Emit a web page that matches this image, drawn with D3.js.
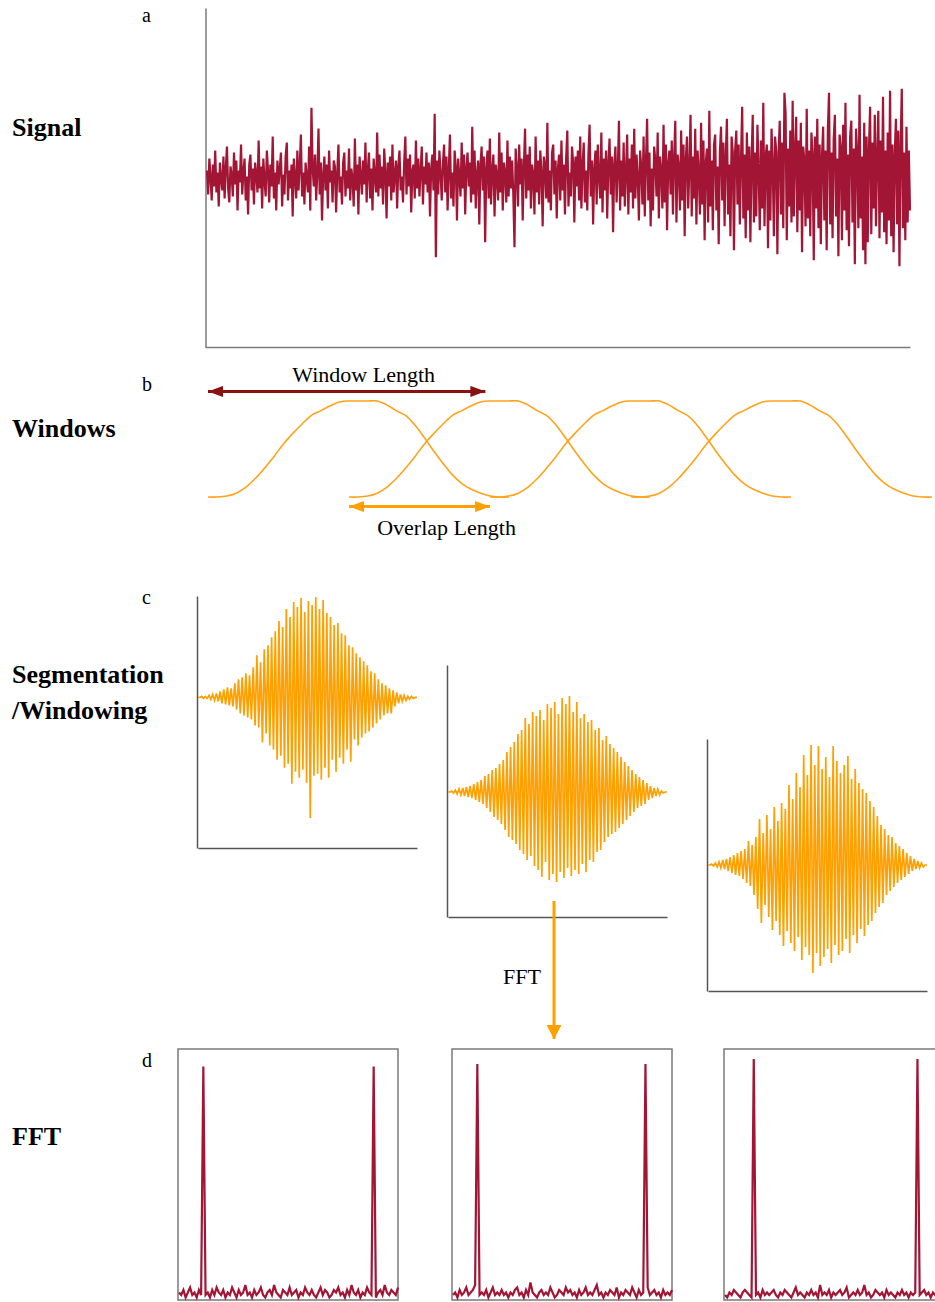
<!DOCTYPE html>
<html>
<head>
<meta charset="UTF-8" />
<style>
  body { margin: 0; background: #fff; }
  svg text { font-family: "Liberation Serif", "Times New Roman", serif; fill: #000; }
  .row-label { font-weight: bold; font-size: 26px; }
  .panel-letter { font-size: 20px; }
  .note { font-size: 22px; }
</style>
</head>
<body>
<svg width="935" height="1302"></svg>
<script src="https://d3js.org/d3.v7.min.js"></script>
<script>
// ---- data ----
// a: raw signal, offset from baseline
const signal = [
  10, -14, 22, 4, -20, 16, -6, 30, -12, 8, -26, 18, 2, -10, 24, -18, 12, 34, -8, -22,
  14, 6, -16, 28, -4, 20, -30, 10, -2, 36, -14, 8, 22, -20, 4, -34, 16, 26, -10, 12,
  -24, 18, 6, -12, 40, -8, 14, -28, 22, 0, -16, 30, 10, -22, 16, -6, 44, -18, 8, -30,
  20, -4, 12, 28, -26, 6, -14, 24, 38, -20, 10, -8, 16, -36, 22, 4, -18, 30, -10, 14,
  46, -16, 8, -24, 18, 2, -12, 34, -30, 73, 12, -6, 26, -20, 8, 52, -14, 18, -40, 6,
  24, -10, 16, -28, 30, -2, 10, -22, 20, 14, -32, 8, 36, -12, 4, -24, 18, 28, -16, 10,
  -8, 32, -20, 12, 2, -26, 42, -10, 16, -34, 24, 6, -14, 20, -4, 38, -22, 10, 28, -18,
  12, -30, 22, 4, -12, 48, -16, 26, -8, 14, -24, 32, 8, -38, 18, -6, 24, -20, 36, -12,
  6, 20, -28, 14, 30, -10, 4, -22, 18, 44, -14, 22, -6, 26, -32, 10, 16, -18, 40, -8,
  22, -16, 10, 34, -24, 14, -4, 28, -12, 18, -36, 12, 26, -10, 67, -77, 20, -14, 30, 8,
  -20, 16, 36, -12, 24, -30, 10, 46, -18, 8, -26, 30, 14, -40, 22, 4, -16, 38, -8, 26,
  -34, 12, 28, -6, 18, -22, 54, -14, 30, -28, 6, 20, -44, 16, 34, -10, 24, -62, 12, 30,
  -18, 42, -24, 10, 26, -36, 16, 4, -20, 48, -12, 28, -30, 18, 8, -22, 40, -16, 24, -8,
  20, -14, -67, 32, 12, -26, 36, -4, 22, -40, 14, 52, -18, 26, -10, 34, -28, 16, 6, -34,
  44, -12, 20, -24, 30, 8, -46, 24, 14, -18, 58, -22, 10, -30, 28, 36, -14, 20, -38, 12,
  26, -20, 40, -10, 16, -34, 22, 50, -26, 8, -16, 34, 18, -42, 24, -6, 30, -20, 44, -28,
  14, 38, -22, 10, -30, 26, 56, -16, 20, -44, 12, 30, -24, 36, 4, -18, 48, -32, 22, -10,
  30, -38, 18, 42, -14, 24, -52, 16, 34, -22, 10, 60, -30, 20, -16, 38, -26, 8, 46, -34,
  22, -12, 36, -28, 52, -18, 26, 4, -40, 30, 14, -24, 44, -36, 18, 62, -20, 28, -46, 12,
  -30, 34, 20, -16, 48, -38, 24, 10, -28, 56, -22, 36, -50, 18, 30, -14, 40, -34, 22, 60,
  -42, 26, 14, -30, 50, -20, 36, -56, 22, 44, -28, 12, 66, -36, 24, -18, 52, -44, 30, 8,
  -34, 58, -24, 40, -60, 18, 32, -42, 70, -26, 20, -50, 36, 46, -30, 14, -64, 28, 54, -20,
  38, -46, 24, 62, -34, 16, -56, 44, 28, -70, 30, 50, -24, 36, -44, 20, 74, -38, 26, -58,
  48, -30, 34, -62, 20, 66, -42, 28, -36, 56, 12, -50, 40, -28, 78, -46, 24, 36, -68, 30,
  -40, 52, 18, -56, 44, 30, -74, 26, 60, -34, 38, -48, 88, 68, -60, 32, -26, 50, -42, 80,
  -36, 28, 64, -52, 40, -30, 58, -72, 34, 20, -46, 72, -38, 30, -56, 48, 26, -80, 44, -28,
  62, -48, 36, -64, 24, 54, -40, 30, -70, 50, 88, -44, 28, -58, 42, 66, -36, 22, -76, 46,
  34, -60, 56, -30, 78, -50, 26, -66, 44, 60, -42, 32, -84, 52, 28, -48, 86, -38, 24, -70,
  58, -84, 44, -62, 30, 74, -54, 38, -28, 66, -46, 24, 70, -58, 40, -32, 84, -52, 30, -64,
  48, -40, 90, -56, 36, -72, 26, 62, -44, 50, -86, 34, 92, -48, 28, -60, 54, -42, 30, -30
];

// b: one window's shape, sampled every 2 samples (64-sample window)
const windowShape = [
  0, 0, 0.01, 0.04, 0.10, 0.19, 0.30, 0.42, 0.55, 0.66, 0.76, 0.85, 0.90, 0.95, 0.99, 1, 1,
  1, 1, 0.96, 0.90, 0.85, 0.75, 0.62, 0.48, 0.35, 0.23, 0.14, 0.08, 0.04, 0.01, 0, 0
];
const windowStarts = [0, 30, 60, 90];
const windowLengthArrow = [0, 59];
const overlapArrow = [30, 60];

// c: windowed segments, alternating peak / trough magnitudes
const seg1Peaks = [0,1,1,2,3,4,6,8,10,9, 14,18,20,24,22,30,42,35,48,52, 60,66,76,70,88,80,95,90,99,85,
  96,92,100,88,97,84,80,72,74,64, 62,52,50,44,40,36,32,26,24,18, 14,12,9,7,5,3,2,1,1,0];
const seg1Troughs = [0,1,1,2,3,4,6,7,8,9, 12,16,18,20,22,28,30,45,36,48, 52,62,58,70,66,86,74,80,72,85,
  120,78,76,82,70,80,62,74,60,66, 52,64,42,48,40,36,34,30,26,22, 18,16,16,9,6,4,3,2,1,0];
const seg2Peaks = [0,1,2,3,4,5,6,8,10,12, 16,18,22,24,28,32,40,45,50,58, 62,74,68,80,76,82,72,88,84,90,
  78,94,88,96,80,90,74,78,70,72, 62,64,52,56,48,44,40,35,30,26, 22,18,15,12,9,6,4,3,1,0];
const seg2Troughs = [0,1,2,3,4,5,6,8,10,12, 16,20,25,28,32,38,45,48,52,58, 62,68,64,74,78,85,70,88,82,90,
  80,86,76,84,78,82,72,80,68,70, 60,58,50,45,42,40,36,32,28,24, 20,16,14,12,8,6,4,3,1,0];
const seg3Peaks = [0,1,2,3,5,6,8,10,12,14, 16,24,20,28,46,32,50,36,58,44, 62,56,80,66,92,78,110,90,120,100,
  119,96,108,88,119,104,92,100,109,86, 96,82,76,72,64,58,49,40,36,30, 28,22,19,16,12,9,6,4,2,0];
const seg3Troughs = [0,1,2,3,4,6,8,10,11,14, 18,21,30,44,58,40,52,65,56,70, 81,66,78,86,72,95,82,90,108,88,
  101,92,84,98,80,90,86,74,88,70, 78,64,71,60,56,48,42,38,30,26, 22,18,15,12,9,6,4,3,2,0];

// d: FFT magnitudes
const fft1 = [3,2,4,1,3,5,2,3,1,4, 2,93,2,3,1,4,2,5,3,2, 4,1,3,2,5,3,1,4,2,3, 6,2,3,1,4,2,3,5,2,1,
  3,4,2,6,3,2,1,4,3,2, 5,2,3,4,1,3,2,5,3,2, 4,2,1,3,5,2,4,3,1,2, 4,3,5,2,3,1,4,2,6,3,
  2,4,1,3,2,5,3,2,93,1, 3,4,2,6,3,2,4,3,2,5];
const fft2 = [2,3,1,4,2,3,5,2,3,4, 6,94,2,3,2,4,1,3,5,2, 3,2,4,2,3,1,3,2,4,5, 2,3,1,4,2,7,3,2,1,3,
  4,2,3,2,5,3,1,2,4,3, 2,5,3,4,2,3,1,4,2,3, 5,2,3,2,4,6,2,3,1,3, 2,4,3,2,5,1,3,2,4,3,
  2,5,3,1,4,2,3,94,5,2, 3,4,2,3,1,4,2,3,2,4];
const fft3 = [2,1,3,2,4,3,2,1,3,4, 3,2,1,96,2,3,1,4,2,3, 2,3,4,2,1,3,2,4,3,2, 1,3,5,2,3,2,1,3,2,4,
  2,3,1,6,2,3,2,4,1,3, 2,3,4,2,3,5,1,2,3,2, 4,2,3,6,2,3,1,2,4,3, 2,3,1,4,2,3,2,1,3,2,
  4,2,3,1,3,2,3,96,2,3, 4,2,3,1,3,2,4,2,3,2];

const rowLabels = [["Signal"], ["Windows"], ["Segmentation", "/Windowing"], ["FFT"]];
const panelLetters = ["a", "b", "c", "d"];

// ---- drawing ----
const crimson = "#a31535",
  orange = "#ffa000",
  darkRed = "#8b1010",
  axisGray = "#7a7a7a";

let svg = d3.select("svg");

let defs = svg.append("defs");
function addMarker(id, color, w, h) {
  defs.append("marker")
    .attr("id", id)
    .attr("viewBox", "0 0 10 10")
    .attr("refX", 10)
    .attr("refY", 5)
    .attr("markerUnits", "userSpaceOnUse")
    .attr("markerWidth", w)
    .attr("markerHeight", h)
    .attr("preserveAspectRatio", "none")
    .attr("orient", "auto-start-reverse")
    .append("path")
    .attr("d", "M0,0L10,5L0,10z")
    .attr("fill", color);
}
addMarker("head-red", darkRed, 15, 11);
addMarker("head-orange", orange, 15, 11);
addMarker("head-fft", orange, 14, 15);

// row labels and letters
const labelY = [136, 437, 683, 1145];
const letterY = [22, 391, 604, 1067];
rowLabels.forEach((lines, i) => {
  lines.forEach((t, j) => {
    svg.append("text").attr("class", "row-label")
      .attr("x", 12).attr("y", labelY[i] + j * 36).text(t);
  });
  svg.append("text").attr("class", "panel-letter")
    .attr("x", 142).attr("y", letterY[i]).text(panelLetters[i]);
});

// a: signal
let xA = d3.scaleLinear().domain([0, signal.length - 1]).range([207, 910]);
let yA = d3.scaleLinear().domain([-167, 173]).range([347, 8]);
svg.append("g").attr("transform", "translate(205.5,0)")
  .call(d3.axisLeft(yA).ticks(0).tickSizeOuter(0))
  .call(g => g.select(".domain").attr("stroke", axisGray).attr("stroke-width", 1.5));
svg.append("g").attr("transform", "translate(0,347)")
  .call(d3.axisBottom(d3.scaleLinear().range([205, 910])).ticks(0).tickSizeOuter(0))
  .call(g => g.select(".domain").attr("stroke", axisGray).attr("stroke-width", 1.5));
svg.append("path")
  .datum(signal)
  .attr("fill", "none")
  .attr("stroke", crimson)
  .attr("stroke-width", 2.2)
  .attr("d", d3.line().x((d, i) => xA(i)).y(d => yA(d)));

// b: overlapping windows
let xB = d3.scaleLinear().domain([0, 154]).range([208, 932]);
let yB = d3.scaleLinear().domain([0, 1]).range([497, 401]);
let winLine = d3.line().curve(d3.curveCatmullRom.alpha(0.5))
  .x(d => xB(d[0])).y(d => yB(d[1]));
svg.append("g").selectAll("path")
  .data(windowStarts)
  .join("path")
  .attr("fill", "none")
  .attr("stroke", "#ffa31a")
  .attr("stroke-width", 1.6)
  .attr("d", s => winLine(windowShape.map((v, k) => [s + k * 2, v])));

svg.append("line")
  .attr("x1", xB(windowLengthArrow[0])).attr("x2", xB(windowLengthArrow[1]))
  .attr("y1", yB(1.1)).attr("y2", yB(1.1))
  .attr("stroke", darkRed).attr("stroke-width", 3)
  .attr("marker-start", "url(#head-red)").attr("marker-end", "url(#head-red)");
svg.append("text").attr("class", "note").attr("text-anchor", "middle")
  .attr("x", (xB(windowLengthArrow[0]) + xB(windowLengthArrow[1])) / 2 + 17)
  .attr("y", 382).text("Window Length");

svg.append("line")
  .attr("x1", xB(overlapArrow[0])).attr("x2", xB(overlapArrow[1]))
  .attr("y1", yB(-0.1)).attr("y2", yB(-0.1))
  .attr("stroke", orange).attr("stroke-width", 3)
  .attr("marker-start", "url(#head-orange)").attr("marker-end", "url(#head-orange)");
svg.append("text").attr("class", "note").attr("text-anchor", "middle")
  .attr("x", (xB(overlapArrow[0]) + xB(overlapArrow[1])) / 2 + 27)
  .attr("y", 535).text("Overlap Length");

// c: windowed segments
const segPanels = [
  { peaks: seg1Peaks, troughs: seg1Troughs, left: 197, top: 596, domain: [-150, 101] },
  { peaks: seg2Peaks, troughs: seg2Troughs, left: 447, top: 665, domain: [-125, 127] },
  { peaks: seg3Peaks, troughs: seg3Troughs, left: 707, top: 739, domain: [-126, 126] }
];
segPanels.forEach(p => {
  let n = Math.min(p.peaks.length, p.troughs.length);
  let values = [];
  for (let i = 0; i < n; i++) values.push(p.peaks[i], -p.troughs[i]);
  let x = d3.scaleLinear().domain([0, values.length - 1]).range([p.left + 1, p.left + 220]);
  let y = d3.scaleLinear().domain(p.domain).range([p.top + 252, p.top]);
  let g = svg.append("g");
  g.append("g").attr("transform", `translate(${p.left},0)`)
    .call(d3.axisLeft(y).ticks(0).tickSizeOuter(0))
    .call(a => a.select(".domain").attr("stroke", "#555").attr("stroke-width", 1.5));
  g.append("g").attr("transform", `translate(0,${p.top + 252})`)
    .call(d3.axisBottom(x).ticks(0).tickSizeOuter(0))
    .call(a => a.select(".domain").attr("stroke", "#555").attr("stroke-width", 1.5));
  g.append("path")
    .datum(values)
    .attr("fill", "none")
    .attr("stroke", orange)
    .attr("stroke-width", 1.7)
    .attr("d", d3.line().x((d, i) => x(i)).y(d => y(d)));
});

// FFT arrow
svg.append("line")
  .attr("x1", 554).attr("x2", 554).attr("y1", 901).attr("y2", 1039)
  .attr("stroke", orange).attr("stroke-width", 3)
  .attr("marker-end", "url(#head-fft)");
svg.append("text").attr("class", "note").attr("text-anchor", "middle")
  .attr("x", 522).attr("y", 984).text("FFT");

// d: spectra
const fftPanels = [
  { values: fft1, left: 178 },
  { values: fft2, left: 452 },
  { values: fft3, left: 724 }
];
fftPanels.forEach(p => {
  let x = d3.scaleLinear().domain([0, p.values.length - 1]).range([p.left + 1, p.left + 220]);
  let y = d3.scaleLinear().domain([0, 100]).range([1300, 1049]);
  svg.append("rect")
    .attr("x", p.left).attr("y", 1049).attr("width", 220).attr("height", 251)
    .attr("fill", "none").attr("stroke", axisGray).attr("stroke-width", 1.5);
  svg.append("path")
    .datum(p.values)
    .attr("fill", "none")
    .attr("stroke", crimson)
    .attr("stroke-width", 2.2)
    .attr("d", d3.line().x((d, i) => x(i)).y(d => y(d)));
});
</script>
</body>
</html>
